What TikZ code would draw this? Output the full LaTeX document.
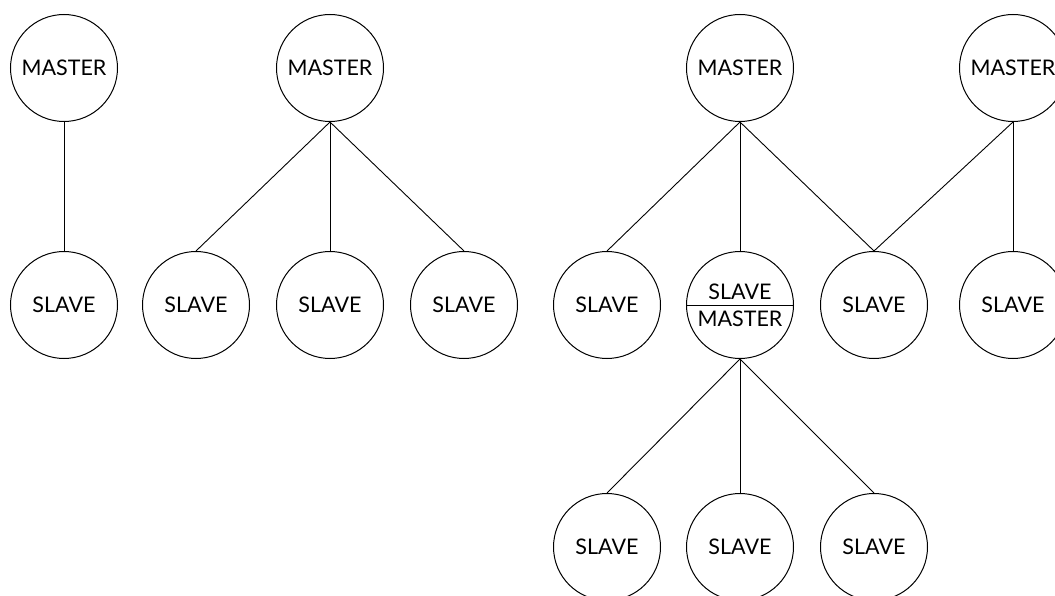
\documentclass[tikz,border=0pt]{standalone}
\usepackage{fontspec}
\setmainfont{Lato}
\begin{document}
\begin{tikzpicture}[x=1pt,y=-1pt,
  unit/.style={draw, circle, line width=1pt, minimum size=107pt, inner sep=0pt,
               font=\fontsize{21.5}{21.5}\selectfont},
  tag/.style={inner sep=0pt, font=\fontsize{21.5}{21.5}\selectfont},
  link/.style={line width=0.9pt}]
\useasboundingbox (0,0) rectangle (1055,596);
% first group: one master, one slave
\node[unit] (m1) at (64,68) {MASTER};
\node[unit] (s1) at (64,305) {SLAVE};
% second group: one master, three slaves
\node[unit] (m2) at (330,68) {MASTER};
\node[unit] (s2a) at (196,305) {SLAVE};
\node[unit] (s2b) at (330,305) {SLAVE};
\node[unit] (s2c) at (464,305) {SLAVE};
% third group: two masters sharing a slave, and a slave that is also a master
\node[unit] (m3) at (740,68) {MASTER};
\node[unit] (m4) at (1013,68) {MASTER};
\node[unit] (s3a) at (607,305) {SLAVE};
\node[unit] (sm) at (740,305) {};
\node[tag] (smtop) at (740,291.5) {SLAVE};
\node[tag] (smbot) at (740,319) {MASTER};
\node[unit] (s3c) at (874,305) {SLAVE};
\node[unit] (s4) at (1013,305) {SLAVE};
\node[unit] (b1) at (607,547) {SLAVE};
\node[unit] (b2) at (740,547) {SLAVE};
\node[unit] (b3) at (874,547) {SLAVE};
% split line of the combined node
\draw[link] (sm.west) -- (sm.east);
% connections
\draw[link] (m1.south) -- (s1.north);
\draw[link] (m2.south) -- (s2a.north);
\draw[link] (m2.south) -- (s2b.north);
\draw[link] (m2.south) -- (s2c.north);
\draw[link] (m3.south) -- (s3a.north);
\draw[link] (m3.south) -- (sm.north);
\draw[link] (m3.south) -- (s3c.north);
\draw[link] (m4.south) -- (s3c.north);
\draw[link] (m4.south) -- (s4.north);
\draw[link] (sm.south) -- (b1.north);
\draw[link] (sm.south) -- (b2.north);
\draw[link] (sm.south) -- (b3.north);
\end{tikzpicture}
\end{document}
